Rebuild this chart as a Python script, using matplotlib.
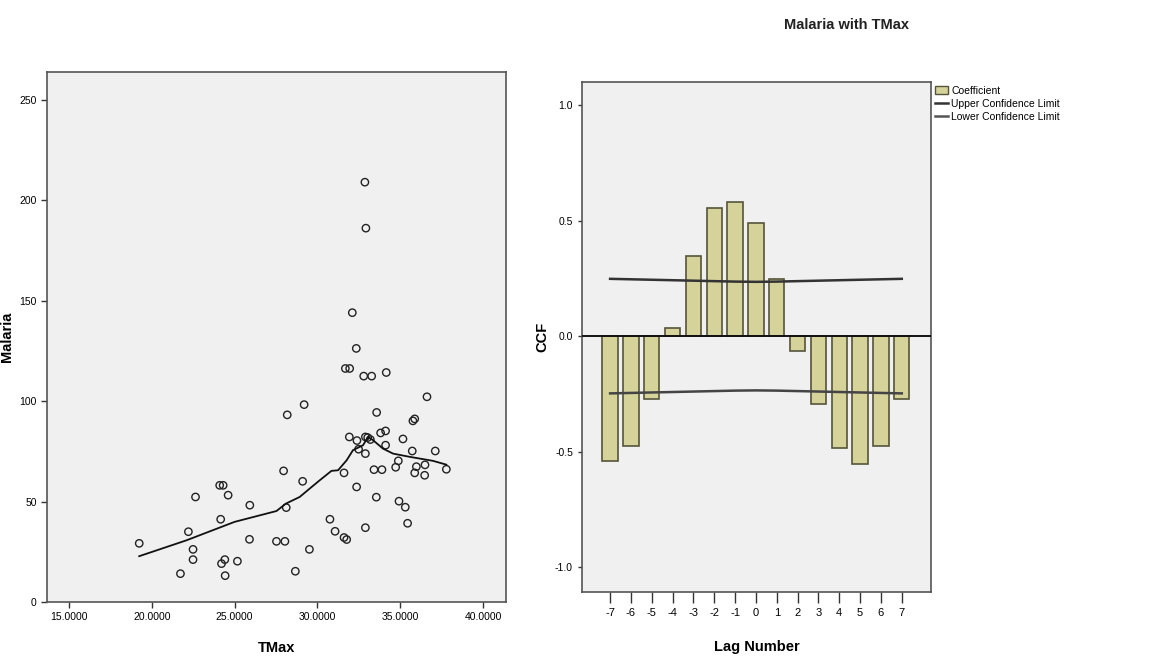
import matplotlib.pyplot as plt
from matplotlib.patches import Patch
from matplotlib.lines import Line2D

plt.rcParams['font.family'] = ['Liberation Sans', 'DejaVu Sans']
plt.rcParams['axes.unicode_minus'] = False

# scatter data: TMax vs Malaria
tmax = [19.24, 21.73, 22.21, 22.64, 22.49, 22.49, 24.10, 24.31, 24.61, 24.16,
        24.21, 24.41, 24.43, 25.17, 25.92, 25.90, 27.53, 28.04, 27.96, 28.12,
        28.18, 28.67, 29.20, 29.11, 29.52, 30.76, 31.07, 31.61, 31.77, 31.61,
        31.69, 31.95, 31.93, 32.37, 32.39, 32.49, 32.35, 32.80, 33.28, 32.90,
        33.04, 33.20, 32.90, 32.90, 33.42, 33.56, 33.58, 33.82, 34.12, 34.16,
        34.12, 33.90, 34.73, 34.89, 34.93, 35.17, 35.31, 35.45, 35.73, 35.77,
        35.88, 35.88, 35.98, 36.48, 36.50, 36.62, 37.12, 37.79, 32.87, 32.93,
        32.11]
malaria = [29.2, 14.1, 35.0, 52.3, 26.2, 21.1, 58.1, 58.1, 53.2, 41.2,
           19.1, 21.1, 13.1, 20.3, 48.2, 31.2, 30.2, 30.2, 65.3, 47.0,
           93.2, 15.3, 98.3, 60.1, 26.2, 41.2, 35.2, 32.1, 31.1, 64.3,
           116.3, 116.3, 82.2, 57.3, 80.4, 76.1, 126.3, 112.5, 112.5, 82.2,
           81.9, 80.9, 73.9, 37.0, 65.9, 52.2, 94.4, 84.2, 85.2, 114.3,
           78.1, 65.9, 67.1, 70.3, 50.2, 81.2, 47.2, 39.2, 75.2, 90.2,
           91.2, 64.3, 67.4, 63.1, 68.3, 102.2, 75.2, 66.1, 209.1, 186.2,
           144.1]

# fit line
fit_x = [19.24, 22.09, 25.0, 27.53, 28.1, 28.93, 29.54, 30.14, 30.85, 31.25,
         31.77, 32.15, 32.76, 33.06, 33.36, 33.96, 34.57, 35.57, 36.98, 37.79]
fit_y = [22.8, 30.7, 39.9, 45.3, 49.0, 52.3, 56.5, 60.6, 65.3, 65.6,
         70.6, 75.6, 78.1, 82.2, 80.6, 76.4, 73.9, 72.3, 70.3, 68.4]

# cross correlation
lags = [-7, -6, -5, -4, -3, -2, -1, 0, 1, 2, 3, 4, 5, 6, 7]
ccf = [-0.539, -0.477, -0.273, 0.034, 0.349, 0.556, 0.582, 0.491, 0.247,
       -0.066, -0.296, -0.486, -0.553, -0.477, -0.273]
upper = [0.248, 0.246, 0.244, 0.242, 0.240, 0.238, 0.236, 0.235, 0.236,
         0.238, 0.240, 0.242, 0.244, 0.246, 0.248]
lower = [-0.248, -0.246, -0.244, -0.242, -0.240, -0.238, -0.236, -0.235,
         -0.236, -0.238, -0.240, -0.242, -0.244, -0.246, -0.248]

bg = '#f0f0f0'
fig = plt.figure(figsize=(11.75, 6.67), dpi=100)

# left: scatter
ax1 = fig.add_axes([0.04, 0.0975, 0.3906, 0.7946])
ax1.set_facecolor(bg)
ax1.scatter(tmax, malaria, s=28, facecolors='none', edgecolors='#222222', linewidths=1.0)
ax1.plot(fit_x, fit_y, color='#111111', lw=1.3)
ax1.set_xlim(13.67, 41.39)
ax1.set_ylim(0, 264)
ax1.set_xticks([15, 20, 25, 30, 35, 40])
ax1.set_xticklabels(['15.0000', '20.0000', '25.0000', '30.0000', '35.0000', '40.0000'])
ax1.set_yticks([0, 50, 100, 150, 200, 250])
ax1.tick_params(axis='both', labelsize=7.5, length=4, width=1, color='#333333')
ax1.set_xlabel('TMax', fontsize=10.5, fontweight='bold')
ax1.set_ylabel('Malaria', fontsize=10.5, fontweight='bold')
ax1.xaxis.set_label_coords(0.50, -0.074)
ax1.yaxis.set_label_coords(-0.072, 0.5)
for s in ax1.spines.values():
    s.set_color('#555555')
    s.set_linewidth(1.2)

# right: CCF bars
ax2 = fig.add_axes([0.4953, 0.1124, 0.297, 0.7646])
ax2.set_facecolor(bg)
ax2.bar(lags, ccf, width=0.74, color='#d6d39a', edgecolor='#55553a', linewidth=1.2, zorder=2)
ax2.axhline(0, color='#111111', lw=1.4, zorder=3)
ax2.plot(lags, upper, color='#333333', lw=1.8, zorder=4)
ax2.plot(lags, lower, color='#444444', lw=1.8, zorder=4)
ax2.set_xlim(-8.35, 8.4)
ax2.set_ylim(-1.108, 1.10)
ax2.set_xticks(lags)
ax2.set_yticks([-1.0, -0.5, 0.0, 0.5, 1.0])
ax2.set_yticklabels(['-1.0', '-0.5', '0.0', '0.5', '1.0'])
ax2.tick_params(axis='x', labelsize=8, length=8, width=1, color='#333333')
ax2.tick_params(axis='y', labelsize=7.5, length=3, width=1, color='#333333')
ax2.set_xlabel('Lag Number', fontsize=10.5, fontweight='bold')
ax2.set_ylabel('CCF', fontsize=10.5, fontweight='bold')
ax2.xaxis.set_label_coords(0.50, -0.094)
ax2.yaxis.set_label_coords(-0.092, 0.5)
for s in ax2.spines.values():
    s.set_color('#555555')
    s.set_linewidth(1.2)

fig.text(0.72, 0.962, 'Malaria with TMax', ha='center', va='center',
         fontsize=10.5, fontweight='bold', color='#222222')

handles = [Patch(facecolor='#d6d39a', edgecolor='#55553a', label='Coefficient'),
           Line2D([], [], color='#333333', lw=1.8, label='Upper Confidence Limit'),
           Line2D([], [], color='#555555', lw=1.8, label='Lower Confidence Limit')]
fig.legend(handles=handles, loc='upper left', bbox_to_anchor=(0.792, 0.878),
           frameon=False, fontsize=7.5, handlelength=1.3, handletextpad=0.3,
           labelspacing=0.3, borderaxespad=0)

plt.savefig('out.png', dpi=100)
